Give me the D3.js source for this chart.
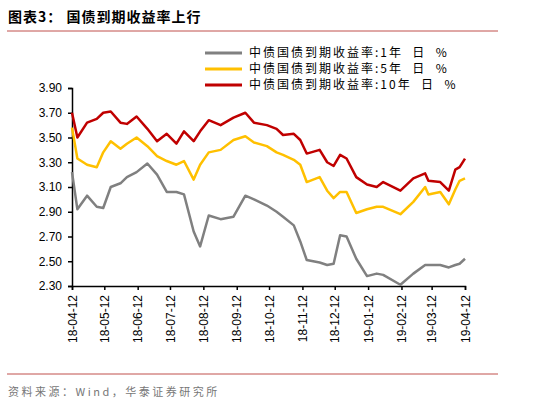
<!DOCTYPE html>
<html><head><meta charset="utf-8">
<script src="https://cdn.jsdelivr.net/npm/d3@7"></script>
<style>body{margin:0;background:#fff}svg{display:block}</style></head>
<body><svg id="c" width="539" height="409"></svg>
<script>
const dates = ["2018-04-12","2018-04-17","2018-04-26","2018-05-05","2018-05-11","2018-05-18","2018-05-27","2018-06-02","2018-06-11","2018-06-21","2018-06-30","2018-07-09","2018-07-18","2018-07-25","2018-08-03","2018-08-09","2018-08-17","2018-08-28","2018-09-09","2018-09-20","2018-09-28","2018-10-10","2018-10-19","2018-10-25","2018-11-04","2018-11-10","2018-11-16","2018-11-28","2018-12-05","2018-12-11","2018-12-17","2018-12-23","2019-01-01","2019-01-11","2019-01-20","2019-01-26","2019-02-11","2019-02-23","2019-03-06","2019-03-09","2019-03-20","2019-03-28","2019-04-03","2019-04-07","2019-04-12"];
const y1 = [3.22,2.92,3.03,2.94,2.93,3.10,3.13,3.18,3.22,3.29,3.20,3.06,3.06,3.04,2.74,2.62,2.87,2.84,2.86,3.03,3.00,2.95,2.90,2.86,2.79,2.66,2.51,2.49,2.47,2.48,2.71,2.70,2.52,2.38,2.40,2.39,2.31,2.40,2.47,2.47,2.47,2.45,2.47,2.48,2.52];
const y5 = [3.58,3.33,3.28,3.26,3.38,3.47,3.41,3.45,3.50,3.43,3.35,3.31,3.28,3.31,3.16,3.28,3.38,3.40,3.48,3.51,3.46,3.43,3.38,3.36,3.32,3.28,3.14,3.18,3.07,3.01,3.06,3.06,2.89,2.92,2.94,2.94,2.88,2.98,3.10,3.04,3.06,2.96,3.08,3.15,3.17];
const y10 = [3.70,3.50,3.62,3.65,3.70,3.71,3.62,3.61,3.67,3.57,3.47,3.53,3.45,3.55,3.47,3.55,3.64,3.60,3.66,3.70,3.62,3.60,3.57,3.52,3.53,3.48,3.37,3.40,3.30,3.27,3.36,3.33,3.18,3.12,3.10,3.14,3.07,3.17,3.21,3.15,3.14,3.07,3.24,3.26,3.33];
const yTicks = [2.30,2.50,2.70,2.90,3.10,3.30,3.50,3.70,3.90];
const xTicks = ["2018-04-12","2018-05-12","2018-06-12","2018-07-12","2018-08-12","2018-09-12","2018-10-12","2018-11-12","2018-12-12","2019-01-12","2019-02-12","2019-03-12","2019-04-12"];
const seriesNames = ["中债国债到期收益率:1年  日  %","中债国债到期收益率:5年  日  %","中债国债到期收益率:10年  日  %"];
const colors = ["#808080","#FFC000","#C00000"];

const p = d3.timeParse("%Y-%m-%d");
const svg = d3.select("#c");
const x = d3.scaleTime().domain([p(xTicks[0]), p(xTicks[12])]).range([72,465]);
const y = d3.scaleLinear().domain([2.30,3.90]).range([286,88]);

svg.append("text").attr("x",8).attr("y",22).attr("font-size",14).attr("font-weight","bold")
  .attr("font-family","Noto Sans CJK SC").attr("letter-spacing",1).text("图表3：  国债到期收益率上行");
svg.append("line").attr("x1",7).attr("x2",498).attr("y1",31).attr("y2",31).attr("stroke","#C0504D").attr("stroke-width",1);
svg.append("line").attr("x1",7).attr("x2",498).attr("y1",374).attr("y2",374).attr("stroke","#C0504D").attr("stroke-width",1);
svg.append("text").attr("x",8).attr("y",396).attr("font-size",11).attr("fill","#777").attr("letter-spacing",2.5)
  .attr("font-family","Noto Sans CJK SC").text("资料来源：Wind，华泰证券研究所");

const ya = svg.append("g").attr("transform","translate(72,0)")
  .call(d3.axisLeft(y).tickValues(yTicks).tickFormat(d3.format(".2f")).tickSize(4));
ya.selectAll("text").attr("font-family","Liberation Sans").attr("font-size",12).attr("fill","#000").attr("dx",-3);
const xa = svg.append("g").attr("transform","translate(0,286)")
  .call(d3.axisBottom(x).tickValues(xTicks.map(p)).tickFormat(d3.timeFormat("%y-%m-%d")).tickSize(4));
xa.selectAll("text").attr("font-family","Liberation Sans").attr("font-size",12).attr("fill","#000")
  .attr("transform","rotate(-90)").attr("text-anchor","end").attr("x",-9).attr("y",0).attr("dy","0.35em");
svg.selectAll(".domain").attr("stroke","#000").attr("stroke-width",1.5);
svg.selectAll(".tick line").attr("stroke","#000").attr("stroke-width",1.5);

const line = d3.line().x((d,i)=>x(p(dates[i]))).y(d=>y(d));
[y1,y5,y10].forEach((s,i)=>{
  svg.append("path").datum(s).attr("d",line).attr("fill","none").attr("stroke",colors[i]).attr("stroke-width",2.5).attr("stroke-linejoin","round");
});
seriesNames.forEach((n,i)=>{
  const ly = 53 + i*16;
  svg.append("line").attr("x1",205).attr("x2",242).attr("y1",ly).attr("y2",ly).attr("stroke",colors[i]).attr("stroke-width",3);
  svg.append("text").attr("x",249).attr("y",ly+4).attr("font-size",12).attr("letter-spacing",2).attr("font-family","Noto Sans CJK SC").style("white-space","pre").text(n);
});
</script></body></html>
